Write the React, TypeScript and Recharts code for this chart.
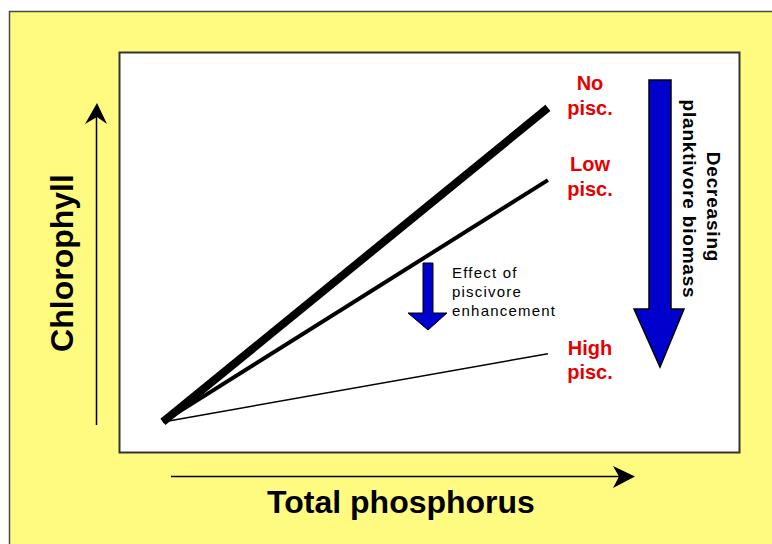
import { LineChart, Line, XAxis, YAxis } from "recharts";

// Conceptual diagram: chlorophyll vs total phosphorus under three piscivore levels.
// Units are arbitrary: the lines all start at the origin.

const phosphorus = [0, 10];
const noPisc = [0, 10];
const lowPisc = [0, 7.7];
const highPisc = [0, 2.17];

const seriesLabels = [
  { lines: ["No", "pisc."], y: [90, 115] },
  { lines: ["Low", "pisc."], y: [171, 196] },
  { lines: ["High", "pisc."], y: [355, 379] },
];

const effectLabel = ["Effect of", "piscivore", "enhancement"];

const data = phosphorus.map((tp, i) => ({
  tp,
  none: noPisc[i],
  low: lowPisc[i],
  high: highPisc[i],
}));

const W = 772;
const H = 544;
const RED = "#e60000";
const BLUE = "#0000cc";
const SANS = "'Liberation Sans', Arial, sans-serif";

function Background() {
  return (
    <svg width={W} height={H} style={{ position: "absolute", left: 0, top: 0 }}>
      <rect x={0} y={0} width={W} height={H} fill="#ffffff" />
      <rect x={9.5} y={11.5} width={W} height={H} fill="#fffb80" stroke="#4a4a4a" strokeWidth={1.5} />
      <rect x={119.5} y={52.5} width={620} height={400} fill="#ffffff" stroke="#333" strokeWidth={2} />
    </svg>
  );
}

function Overlay() {
  return (
    <svg width={W} height={H} style={{ position: "absolute", left: 0, top: 0, pointerEvents: "none" }}>
      {/* axis arrows */}
      <line x1={96.5} y1={425} x2={96.5} y2={112} stroke="#000" strokeWidth={1.5} />
      <path d="M97,103 L107,124 L97,117 L85,124 Z" fill="#000" />
      <line x1={171} y1={476.5} x2={626} y2={476.5} stroke="#000" strokeWidth={1.5} />
      <path d="M635,476.5 L613,466 L619,476.5 L613,488 Z" fill="#000" />

      {/* axis titles */}
      <text
        x={0}
        y={0}
        transform="translate(73,263) rotate(-90)"
        textAnchor="middle"
        fontFamily={SANS}
        fontWeight="bold"
        fontSize={32}
        fill="#000"
      >
        Chlorophyll
      </text>
      <text x={401} y={513} textAnchor="middle" fontFamily={SANS} fontWeight="bold" fontSize={32} fill="#000">
        Total phosphorus
      </text>

      {/* series labels */}
      {seriesLabels.map((s) =>
        s.lines.map((t, j) => (
          <text
            key={t + s.y[j]}
            x={590}
            y={s.y[j]}
            textAnchor="middle"
            fontFamily={SANS}
            fontWeight="bold"
            fontSize={20}
            fill={RED}
          >
            {t}
          </text>
        ))
      )}

      {/* small arrow: effect of piscivore enhancement */}
      <path
        d="M423,263 L433,263 L433,313 L447,313 L428,330 L408,313 L423,313 Z"
        fill={BLUE}
        stroke="#000"
        strokeWidth={1}
      />
      {effectLabel.map((t, i) => (
        <text
          key={t}
          x={452}
          y={278 + i * 19}
          fontFamily={SANS}
          fontSize={15}
          letterSpacing={1.2}
          fill="#000"
        >
          {t}
        </text>
      ))}

      {/* big arrow: decreasing planktivore biomass */}
      <path
        d="M649,80 L671,80 L671,309 L684,309 L660,367 L634,309 L649,309 Z"
        fill={BLUE}
        stroke="#000"
        strokeWidth={1.5}
      />
      <text
        x={0}
        y={0}
        transform="translate(707,207) rotate(90)"
        textAnchor="middle"
        fontFamily={SANS}
        fontWeight="bold"
        fontSize={19}
        letterSpacing={0.8}
        fill="#000"
      >
        Decreasing
      </text>
      <text
        x={0}
        y={0}
        transform="translate(683,199) rotate(90)"
        textAnchor="middle"
        fontFamily={SANS}
        fontWeight="bold"
        fontSize={19}
        letterSpacing={0.8}
        fill="#000"
      >
        planktivore biomass
      </text>
    </svg>
  );
}

export default function App() {
  return (
    <div style={{ position: "absolute", left: 0, top: 0, width: W, height: H, overflow: "hidden" }}>
      <Background />
      <div style={{ position: "absolute", left: 0, top: 0 }}>
        <LineChart width={W} height={H} data={data} margin={{ top: 52, right: 32, bottom: 91, left: 119 }}>
          <XAxis type="number" dataKey="tp" domain={[-1.14, 14.99]} hide />
          <YAxis type="number" domain={[-0.99, 11.78]} hide />
          <Line dataKey="high" stroke="#000" strokeWidth={1.5} dot={false} isAnimationActive={false} />
          <Line dataKey="low" stroke="#000" strokeWidth={4} dot={false} isAnimationActive={false} />
          <Line dataKey="none" stroke="#000" strokeWidth={8} dot={false} isAnimationActive={false} />
        </LineChart>
      </div>
      <Overlay />
    </div>
  );
}
